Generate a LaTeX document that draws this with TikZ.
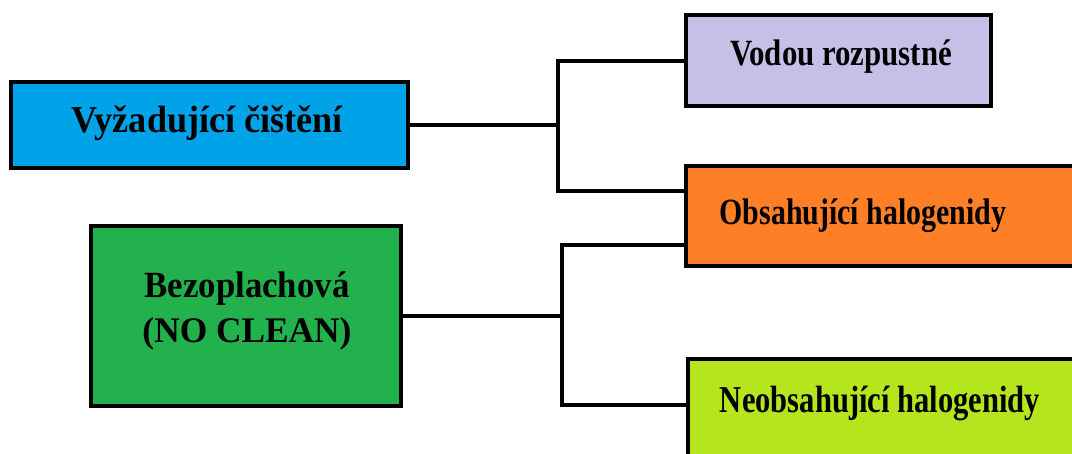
\documentclass[tikz,border=0pt]{standalone}
\usepackage{fontspec}
\setmainfont{Liberation Serif}
\usepackage{graphicx}
\definecolor{cblue}{RGB}{0,162,232}
\definecolor{cgreen}{RGB}{34,177,76}
\definecolor{cpurple}{RGB}{200,191,231}
\definecolor{corange}{RGB}{255,127,39}
\definecolor{clime}{RGB}{181,230,29}
\newcommand{\fittext}[3]{\resizebox{#1}{\height}{\fontsize{#2}{#2}\selectfont\bfseries #3}}
\begin{document}
\begin{tikzpicture}[x=1pt,y=-1pt,
  box/.style={draw=black,line width=4pt,rectangle,inner sep=0pt},
  conn/.style={draw=black,line width=4pt,line cap=rect,line join=miter},
  lbl/.style={inner sep=0pt,anchor=base,text=black}]
\useasboundingbox (0,0) rectangle (1072,453);
\clip (0,0) rectangle (1072,453);
% boxes
\node[box,fill=cblue,minimum width=397pt,minimum height=86pt] (blue) at (209.5,125) {};
\node[box,fill=cgreen,minimum width=310pt,minimum height=180pt] (green) at (246,316) {};
\node[box,fill=cpurple,minimum width=305pt,minimum height=91pt] (purple) at (838.5,60.5) {};
\node[box,fill=corange,minimum width=414pt,minimum height=100pt] (orange) at (893,216) {};
\node[box,fill=clime,minimum width=412pt,minimum height=111pt] (lime) at (894,414.5) {};
% labels
\node[lbl] (tblue) at (207.5,132) {\fittext{271pt}{38}{Vyžadující čištění}};
\node[lbl] (tpurple) at (841,65) {\fittext{222pt}{37}{Vodou rozpustné}};
\node[lbl] (torange) at (863,224) {\fittext{287pt}{37}{Obsahující halogenidy}};
\node[lbl] (tlime) at (880,412) {\fittext{320pt}{38}{Neobsahující halogenidy}};
\node[inner sep=0pt,align=center,font=\fontsize{36}{45}\selectfont] (tgreen) at (247,310.5)
  {\fittext{205pt}{37}{Bezoplachová}\\\fittext{209pt}{36}{(NO CLEAN)}};
% connectors
\coordinate (j1) at (558,125);
\coordinate (j2) at (562,316);
\draw[conn] (blue.east) -- (j1);
\draw[conn] (purple.west) -| (j1) |- ([yshift=25pt]orange.west);
\draw[conn] (green.east) -- (j2);
\draw[conn] ([yshift=-29pt]orange.west) -| (j2) |- ([yshift=10pt]lime.west);
\end{tikzpicture}
\end{document}
